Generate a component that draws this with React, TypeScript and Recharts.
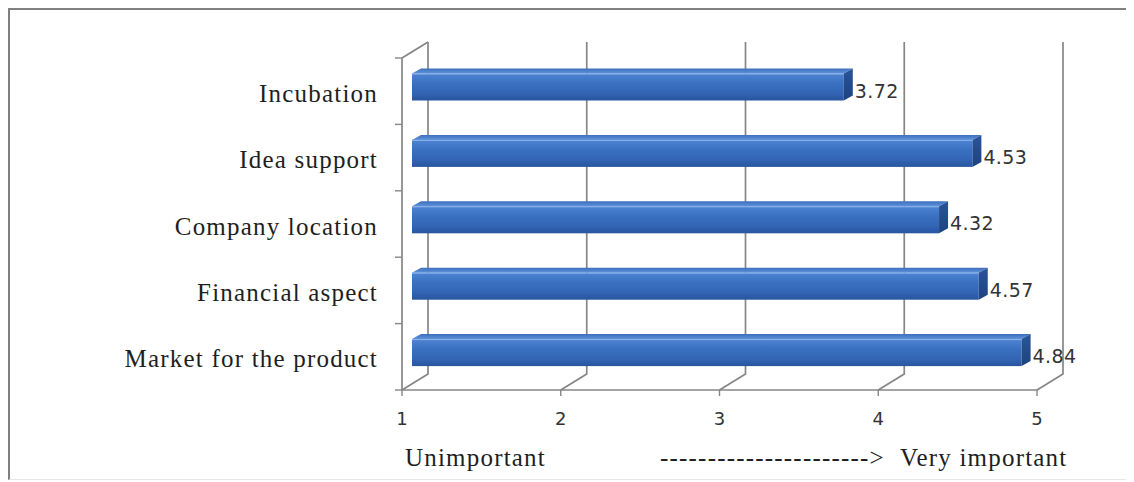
import React from 'react';
import { BarChart, Bar, XAxis, YAxis, CartesianGrid, LabelList } from 'recharts';

const categories = ['Incubation', 'Idea support', 'Company location', 'Financial aspect', 'Market for the product'];
const scores = [3.72, 4.53, 4.32, 4.57, 4.84];
const xTicks = [1, 2, 3, 4, 5];
const lowLabel = 'Unimportant';
const arrowLabel = '---------------------->';
const highLabel = 'Very important';

const data = categories.map((name, i) => ({ name, score: scores[i] }));

const W = 1126;
const H = 474;
const MARGIN = { top: 50, right: 97, bottom: 62, left: 0 };
const Y_AXIS_W = 394;
const X_AXIS_H = 30;
const PLOT_H = H - MARGIN.top - MARGIN.bottom - X_AXIS_H;
const BAND = PLOT_H / categories.length;

// depth of the fake 3D box (back wall offset)
const DX = 26;
const DY = 16;
// bar placement inside the box and its own depth
const BAR_OFF_X = 10;
const BAR_OFF_Y = -4.5;
const BAR_DX = 9;
const BAR_DY = 5;

const GRID = '#868686';
const SERIF = '"Liberation Serif", "Times New Roman", serif';
const SANS = '"DejaVu Sans", Verdana, sans-serif';

// vertical gridlines run along the floor, then up the back wall
const GridLine = (props: any) => {
  const { x1, y1, y2, index } = props;
  const bx = x1 + DX;
  return (
    <g key={`g-${index}`}>
      <path d={`M${x1},${y2} L${bx},${y2 - DY} L${bx},${y1 - DY}`} fill="none" stroke={GRID} strokeWidth={1.7} />
      {index === 0 && (
        <path d={`M${x1},${y1} L${bx},${y1 - DY}`} fill="none" stroke={GRID} strokeWidth={1.7} />
      )}
    </g>
  );
};

const Bar3D = (props: any) => {
  const { x, y, width, height } = props;
  const fx = x + BAR_OFF_X;
  const fy = y + BAR_OFF_Y;
  const ex = fx + width;
  return (
    <g>
      <rect x={fx} y={fy} width={width} height={height} fill="url(#barFront)" />
      <path
        d={`M${fx},${fy} L${fx + BAR_DX},${fy - BAR_DY} L${ex + BAR_DX},${fy - BAR_DY} L${ex},${fy} Z`}
        fill="url(#barTop)"
      />
      <path
        d={`M${ex},${fy} L${ex + BAR_DX},${fy - BAR_DY} L${ex + BAR_DX},${fy + height - BAR_DY} L${ex},${fy + height} Z`}
        fill="url(#barEnd)"
      />
      <line x1={fx} y1={fy + 0.5} x2={ex} y2={fy + 0.5} stroke="#8fb4ea" strokeWidth={1} />
    </g>
  );
};

const ValueLabel = (props: any) => {
  const { x, y, width, height, value } = props;
  return (
    <text
      x={x + width + BAR_OFF_X + BAR_DX + 2}
      y={y + height / 2 - 1}
      dominantBaseline="central"
      fontFamily={SANS}
      fontSize={19}
      letterSpacing={0.4}
      fill="#333"
    >
      {value.toFixed(2)}
    </text>
  );
};

const CategoryTick = (props: any) => {
  const { x, y, payload, index } = props;
  const axisX = x + 24;
  return (
    <g>
      <line x1={axisX - 7} y1={y - BAND / 2} x2={axisX} y2={y - BAND / 2} stroke={GRID} strokeWidth={1.4} />
      {index === categories.length - 1 && (
        <line x1={axisX - 7} y1={y + BAND / 2} x2={axisX} y2={y + BAND / 2} stroke={GRID} strokeWidth={1.4} />
      )}
      <text
        x={x}
        y={y + 2}
        textAnchor="end"
        dominantBaseline="central"
        fontFamily={SERIF}
        fontSize={25}
        letterSpacing={1.2}
        fill="#1e1e1e"
      >
        {payload.value}
      </text>
    </g>
  );
};

const bottomText: React.CSSProperties = {
  position: 'absolute',
  top: 437,
  fontFamily: SERIF,
  fontSize: 25,
  lineHeight: '25px',
  letterSpacing: 1.2,
  color: '#1e1e1e',
  whiteSpace: 'nowrap',
};

export default function App() {
  return (
    <div style={{ position: 'relative', width: W, height: H, background: '#fff' }}>
      <div
        style={{
          position: 'absolute',
          left: 0,
          top: 0,
          width: W,
          height: H - 2,
          borderTop: '2px solid #808080',
          borderLeft: '2px solid #808080',
          borderBottom: '1px solid #e6e6e6',
          boxSizing: 'border-box',
        }}
      />
      <div style={{ position: 'absolute', left: 0, top: 0 }}>
        <BarChart
          width={W}
          height={H}
          data={data}
          layout="vertical"
          margin={MARGIN}
          barSize={27}
        >
          <defs>
            <linearGradient id="barFront" x1="0" y1="0" x2="0" y2="1">
              <stop offset="0%" stopColor="#4d84d2" />
              <stop offset="35%" stopColor="#3b71c2" />
              <stop offset="75%" stopColor="#3264b3" />
              <stop offset="100%" stopColor="#28559e" />
            </linearGradient>
            <linearGradient id="barTop" x1="0" y1="0" x2="0" y2="1">
              <stop offset="0%" stopColor="#3d6fbc" />
              <stop offset="100%" stopColor="#5e92dc" />
            </linearGradient>
            <linearGradient id="barEnd" x1="0" y1="0" x2="0" y2="1">
              <stop offset="0%" stopColor="#2a5598" />
              <stop offset="100%" stopColor="#1c4280" />
            </linearGradient>
          </defs>
          <CartesianGrid horizontal={false} vertical={GridLine} />
          <XAxis
            type="number"
            domain={[1, 5]}
            ticks={xTicks}
            height={X_AXIS_H}
            axisLine={{ stroke: GRID, strokeWidth: 1.7 }}
            tickLine={{ stroke: GRID, strokeWidth: 1.4 }}
            tickSize={6}
            tickMargin={16}
            tick={{ fontFamily: SANS, fontSize: 18, fill: '#333' }}
          />
          <YAxis
            type="category"
            dataKey="name"
            width={Y_AXIS_W}
            axisLine={{ stroke: GRID, strokeWidth: 1.7 }}
            tickLine={false}
            tickSize={0}
            tickMargin={24}
            tick={CategoryTick}
          />
          <Bar dataKey="score" shape={Bar3D} isAnimationActive={false}>
            <LabelList dataKey="score" content={ValueLabel} />
          </Bar>
        </BarChart>
      </div>
      <span style={{ ...bottomText, left: 397 }}>{lowLabel}</span>
      <span style={{ ...bottomText, left: 652 }}>{arrowLabel}</span>
      <span style={{ ...bottomText, left: 892 }}>{highLabel}</span>
    </div>
  );
}
